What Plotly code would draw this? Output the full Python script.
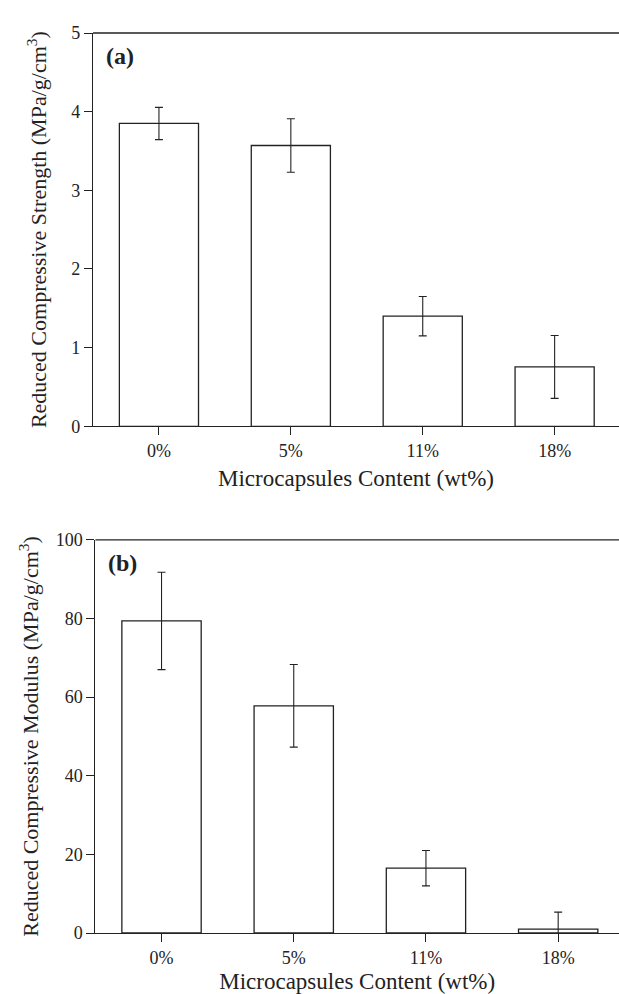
import plotly.graph_objects as go

categories = ["0%", "5%", "11%", "18%"]
strength = [3.85, 3.57, 1.40, 0.755]
strength_err = [0.205, 0.34, 0.25, 0.40]
modulus = [79.4, 57.8, 16.5, 1.0]
modulus_err = [12.4, 10.5, 4.5, 4.3]
strength_ticks = [0, 1, 2, 3, 4, 5]
modulus_ticks = [0, 20, 40, 60, 80, 100]

FONT = "Liberation Serif, Times New Roman, serif"
INK = "#222222"

fig = go.Figure()
fig.add_trace(go.Bar(
    x=categories, y=strength, width=0.6,
    marker=dict(color="white", line=dict(color=INK, width=1.3)),
    error_y=dict(type="data", array=strength_err, visible=True, color=INK, thickness=1.1, width=4),
    xaxis="x", yaxis="y", showlegend=False))
fig.add_trace(go.Bar(
    x=categories, y=modulus, width=0.6,
    marker=dict(color="white", line=dict(color=INK, width=1.3)),
    error_y=dict(type="data", array=modulus_err, visible=True, color=INK, thickness=1.1, width=4),
    xaxis="x2", yaxis="y2", showlegend=False))

axis_common = dict(showgrid=False, zeroline=False, showline=True, linecolor=INK, linewidth=1.3,
                   ticks="outside", ticklen=8, tickcolor=INK, tickwidth=1.2,
                   tickfont=dict(family=FONT, size=18, color=INK))

fig.update_layout(
    width=619, height=994,
    margin=dict(l=93, r=0, t=33, b=61),
    plot_bgcolor="white", paper_bgcolor="white",
    font=dict(family=FONT, color=INK),
    xaxis=dict(**axis_common, domain=[0, 1], anchor="y", range=[-0.5, 3.488],
               title=dict(text="Microcapsules Content (wt%)", font=dict(family=FONT, size=23, color=INK), standoff=9)),
    yaxis=dict(**axis_common, domain=[0.563, 1.0], anchor="x", range=[0, 5], tickvals=strength_ticks,
               title=dict(text="Reduced Compressive Strength (MPa/g/cm<sup>3</sup>)", font=dict(family=FONT, size=22, color=INK), standoff=18)),
    xaxis2=dict(**axis_common, domain=[0.0046, 1], anchor="y2", range=[-0.5, 3.46],
                title=dict(text="Microcapsules Content (wt%)", font=dict(family=FONT, size=23, color=INK), standoff=9)),
    yaxis2=dict(**axis_common, domain=[0.0, 0.4367], anchor="x2", range=[0, 100], tickvals=modulus_ticks,
                title=dict(text="Reduced Compressive Modulus (MPa/g/cm<sup>3</sup>)", font=dict(family=FONT, size=22, color=INK), standoff=10)),
)

# top frame lines
fig.add_shape(type="line", xref="x domain", yref="y domain", x0=0, x1=1, y0=1, y1=1,
              line=dict(color=INK, width=1.3))
fig.add_shape(type="line", xref="x2 domain", yref="y2 domain", x0=0, x1=1, y0=1, y1=1,
              line=dict(color=INK, width=1.3))

fig.add_annotation(text="<b>(a)</b>", xref="x domain", yref="y domain", x=0.02, y=0.98,
                   xanchor="left", yanchor="top", showarrow=False, font=dict(family=FONT, size=24, color=INK))
fig.add_annotation(text="<b>(b)</b>", xref="x2 domain", yref="y2 domain", x=0.02, y=0.98,
                   xanchor="left", yanchor="top", showarrow=False, font=dict(family=FONT, size=24, color=INK))

fig.write_html("out.html")
